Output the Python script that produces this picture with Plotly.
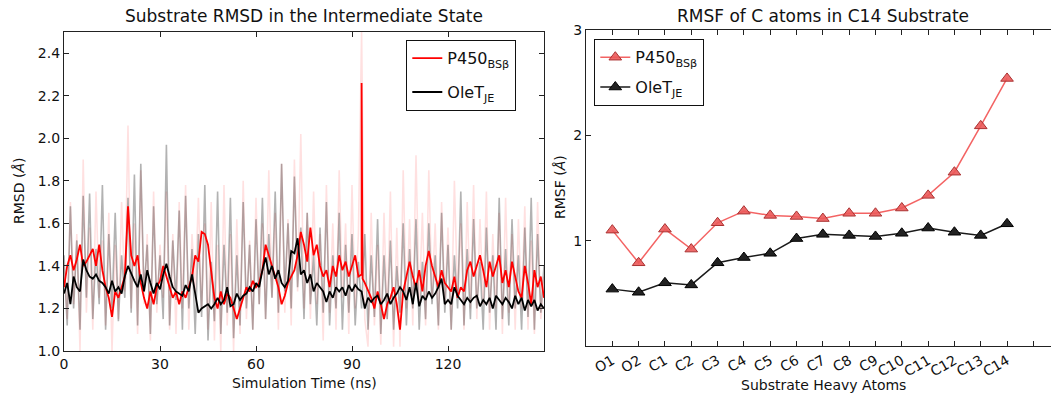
import plotly.graph_objects as go

# ---------------- data: left panel (RMSD time series, ns / Angstrom) ----------------
time_ns = list(range(151))

p450_smooth = [1.30, 1.40, 1.45, 1.38, 1.43, 1.50, 1.40, 1.42, 1.45, 1.48,
               1.40, 1.50, 1.38, 1.30, 1.25, 1.16, 1.28, 1.25, 1.30, 1.35,
               1.68, 1.45, 1.40, 1.45, 1.32, 1.25, 1.20, 1.28, 1.22, 1.30,
               1.33, 1.40, 1.35, 1.30, 1.25, 1.28, 1.22, 1.28, 1.25, 1.30,
               1.35, 1.45, 1.42, 1.56, 1.55, 1.50, 1.38, 1.25, 1.20, 1.28,
               1.22, 1.27, 1.25, 1.20, 1.15, 1.20, 1.25, 1.30, 1.28, 1.33,
               1.30, 1.32, 1.38, 1.50, 1.45, 1.40, 1.35, 1.30, 1.22, 1.26,
               1.32, 1.35, 1.38, 1.45, 1.56, 1.50, 1.42, 1.58, 1.45, 1.50,
               1.40, 1.35, 1.38, 1.30, 1.40, 1.35, 1.45, 1.38, 1.42, 1.35,
               1.40, 1.45, 1.35, 1.36, 1.32, 1.28, 1.25, 1.20, 1.28, 1.22,
               1.15, 1.22, 1.25, 1.30, 1.22, 1.10, 1.28, 1.35, 1.42, 1.35,
               1.30, 1.38, 1.28, 1.40, 1.47, 1.40, 1.35, 1.30, 1.38, 1.32,
               1.30, 1.28, 1.35, 1.25, 1.30, 1.28, 1.38, 1.42, 1.35, 1.40,
               1.45, 1.38, 1.30, 1.42, 1.35, 1.40, 1.45, 1.32, 1.38, 1.30,
               1.42, 1.35, 1.28, 1.25, 1.40, 1.32, 1.22, 1.38, 1.30, 1.35,
               1.25]
# sharp excursion of the P450 trace near 93 ns
p450_spike_time = [92.7, 93.0, 93.3]
p450_spike_val = [1.36, 2.26, 1.34]

olet_smooth = [1.27, 1.32, 1.22, 1.35, 1.30, 1.28, 1.43, 1.38, 1.35, 1.34,
               1.36, 1.33, 1.32, 1.30, 1.27, 1.33, 1.28, 1.30, 1.27, 1.35,
               1.40, 1.36, 1.33, 1.30, 1.36, 1.28, 1.38, 1.32, 1.27, 1.32,
               1.29, 1.36, 1.41, 1.35, 1.30, 1.28, 1.27, 1.26, 1.31, 1.28,
               1.36, 1.26, 1.18, 1.20, 1.21, 1.22, 1.20, 1.22, 1.25, 1.22,
               1.24, 1.30, 1.21, 1.22, 1.27, 1.24, 1.26, 1.27, 1.30, 1.28,
               1.32, 1.30, 1.38, 1.44, 1.36, 1.40, 1.34, 1.38, 1.32, 1.30,
               1.33, 1.47, 1.46, 1.53, 1.36, 1.38, 1.32, 1.36, 1.28, 1.32,
               1.30, 1.28, 1.23, 1.28, 1.25, 1.30, 1.28, 1.30, 1.26, 1.31,
               1.28, 1.31, 1.29, 1.28, 1.20, 1.25, 1.23, 1.25, 1.26, 1.22,
               1.24, 1.27, 1.22, 1.25, 1.27, 1.30, 1.28, 1.24, 1.30, 1.22,
               1.32, 1.21, 1.26, 1.24, 1.28, 1.25, 1.27, 1.30, 1.34, 1.22,
               1.24, 1.22, 1.30, 1.26, 1.24, 1.22, 1.25, 1.23, 1.25, 1.26,
               1.21, 1.24, 1.22, 1.25, 1.20, 1.26, 1.24, 1.22, 1.25, 1.23,
               1.20, 1.26, 1.22, 1.25, 1.19, 1.24, 1.21, 1.24, 1.19, 1.22,
               1.20]

p450_raw = [1.40, 1.15, 1.70, 1.22, 1.55, 1.00, 1.90, 1.18, 1.58, 1.10,
            1.75, 1.25, 1.52, 1.12, 1.65, 1.00, 1.50, 1.15, 1.70, 1.28,
            2.06, 1.20, 1.60, 1.08, 1.85, 1.22, 1.55, 1.05, 1.75, 1.18,
            1.50, 1.25, 1.75, 1.10, 1.55, 1.08, 1.70, 1.20, 1.78, 1.10,
            1.55, 1.28, 1.72, 1.20, 1.60, 1.10, 1.70, 1.05, 1.50, 1.00,
            1.78, 1.12, 1.55, 1.00, 1.62, 1.08, 1.80, 1.15, 1.52, 1.10,
            1.72, 1.22, 1.60, 1.15, 1.85, 1.25, 1.65, 1.10, 1.88, 1.18,
            1.62, 1.12, 1.90, 1.28, 2.02, 1.20, 1.65, 1.15, 1.75, 1.22,
            1.55, 1.05, 1.78, 1.18, 1.60, 1.10, 1.85, 1.25, 1.60, 1.08,
            1.78, 1.20, 1.55, 2.50, 1.15, 1.02, 1.65, 1.12, 1.50, 1.03,
            1.65, 1.15, 1.75, 1.02, 1.58, 1.02, 1.85, 1.20, 1.62, 1.12,
            1.92, 1.22, 1.65, 1.12, 1.85, 1.25, 1.60, 1.10, 1.70, 1.22,
            1.58, 1.10, 1.80, 1.25, 1.60, 1.10, 1.70, 1.20, 1.78, 1.15,
            1.62, 1.22, 1.75, 1.10, 1.55, 1.20, 1.65, 1.08, 1.72, 1.18,
            1.55, 1.10, 1.62, 1.20, 1.68, 1.10, 1.52, 1.08, 1.70, 1.15,
            1.35]

olet_raw = [1.45, 1.12, 1.68, 1.20, 1.52, 1.10, 1.73, 1.25, 1.74, 1.15,
            1.48, 1.22, 1.78, 1.10, 1.55, 1.20, 1.65, 1.14, 1.45, 1.25,
            1.72, 1.18, 1.83, 1.12, 1.88, 1.28, 1.50, 1.08, 1.68, 1.22,
            1.45, 1.15, 1.97, 1.12, 1.52, 1.24, 1.66, 1.10, 1.73, 1.20,
            1.48, 1.08, 1.55, 1.16, 1.78, 1.05, 1.42, 1.14, 1.75, 1.08,
            1.50, 1.18, 1.72, 1.06, 1.45, 1.12, 1.70, 1.20, 1.50, 1.10,
            1.62, 1.22, 1.72, 1.15, 1.55, 1.25, 1.75, 1.18, 1.88, 1.28,
            1.60, 1.20, 1.82, 1.30, 1.58, 1.15, 1.65, 1.22, 1.45, 1.12,
            1.58, 1.18, 1.70, 1.12, 1.45, 1.20, 1.65, 1.10, 1.50, 1.18,
            1.55, 1.12, 1.42, 1.20, 1.55, 1.10, 1.45, 1.16, 1.62, 1.08,
            1.45, 1.15, 1.52, 1.10, 1.40, 1.18, 1.60, 1.12, 1.48, 1.20,
            1.62, 1.10, 1.42, 1.15, 1.60, 1.22, 1.45, 1.12, 1.65, 1.18,
            1.50, 1.10, 1.45, 1.20, 1.75, 1.12, 1.48, 1.15, 1.62, 1.20,
            1.42, 1.10, 1.58, 1.18, 1.45, 1.10, 1.72, 1.15, 1.48, 1.12,
            1.62, 1.20, 1.45, 1.10, 1.58, 1.16, 1.72, 1.10, 1.55, 1.18,
            1.40]

rmsd_ticks = [1.0, 1.2, 1.4, 1.6, 1.8, 2.0, 2.2, 2.4]
time_ticks = [0, 30, 60, 90, 120]

# ---------------- data: right panel (RMSF per heavy atom) ----------------
atoms = ["O1", "O2", "C1", "C2", "C3", "C4", "C5", "C6", "C7", "C8",
         "C9", "C10", "C11", "C12", "C13", "C14"]
rmsf_p450 = [1.10, 0.79, 1.11, 0.92, 1.17, 1.28, 1.24, 1.23, 1.21, 1.26,
             1.26, 1.31, 1.43, 1.65, 2.09, 2.54]
rmsf_olet = [0.54, 0.51, 0.60, 0.58, 0.79, 0.84, 0.88, 1.02, 1.06, 1.05,
             1.04, 1.07, 1.12, 1.08, 1.05, 1.16]
rmsf_ticks = [1, 2, 3]

name_p450 = "P450<sub>BSβ</sub>"
name_olet = "OleT<sub>JE</sub>"

# ---------------- figure ----------------
W, H = 1051, 395
FONT = "DejaVu Sans"
fig = go.Figure()

# merge the spike samples into the smoothed P450 trace (sorted by time)
red_pts = sorted(list(zip(time_ns, p450_smooth)) + list(zip(p450_spike_time, p450_spike_val)))
red_t = [p[0] for p in red_pts]
red_v = [p[1] for p in red_pts]

fig.add_trace(go.Scatter(x=time_ns, y=p450_raw, mode="lines",
                         line=dict(color="rgba(255,0,0,0.12)", width=1.6),
                         showlegend=False, hoverinfo="skip", xaxis="x", yaxis="y"))
fig.add_trace(go.Scatter(x=time_ns, y=olet_raw, mode="lines",
                         line=dict(color="rgba(0,0,0,0.3)", width=1.6),
                         showlegend=False, hoverinfo="skip", xaxis="x", yaxis="y"))
fig.add_trace(go.Scatter(x=red_t, y=red_v, mode="lines", name=name_p450,
                         line=dict(color="#ff0000", width=1.8), legendgroup="a",
                         xaxis="x", yaxis="y", legend="legend"))
fig.add_trace(go.Scatter(x=time_ns, y=olet_smooth, mode="lines", name=name_olet,
                         line=dict(color="#000000", width=1.8), legendgroup="b",
                         xaxis="x", yaxis="y", legend="legend"))

atom_idx = list(range(len(atoms)))
fig.add_trace(go.Scatter(x=atom_idx, y=rmsf_p450, mode="lines+markers", name=name_p450,
                         line=dict(color="rgba(240,60,60,0.8)", width=1.5),
                         marker=dict(symbol="triangle-up", size=11,
                                     color="rgba(235,90,90,0.9)",
                                     line=dict(color="rgb(170,50,50)", width=1)),
                         legendgroup="c", xaxis="x2", yaxis="y2", legend="legend2"))
fig.add_trace(go.Scatter(x=atom_idx, y=rmsf_olet, mode="lines+markers", name=name_olet,
                         line=dict(color="#1a1a1a", width=1.5),
                         marker=dict(symbol="triangle-up", size=11, color="#222222",
                                     line=dict(color="#000000", width=1)),
                         legendgroup="d", xaxis="x2", yaxis="y2", legend="legend2"))

axis_common = dict(showline=True, linecolor="#222222", linewidth=1.3, ticks="inside",
                   ticklen=5, tickwidth=1, tickcolor="#222222", showgrid=False,
                   zeroline=False, automargin=False,
                   tickfont=dict(family=FONT, size=14, color="#111111"))

fig.update_layout(
    width=W, height=H, margin=dict(l=0, r=0, t=0, b=0),
    paper_bgcolor="white", plot_bgcolor="white",
    font=dict(family=FONT, color="#111111"),
    xaxis=dict(domain=[64 / W, 544 / W], range=[0, 150], tickmode="array",
               tickvals=time_ticks, ticktext=[str(v) for v in time_ticks],
               mirror="allticks", anchor="y", **axis_common),
    yaxis=dict(domain=[(H - 351) / H, (H - 32) / H], range=[1.0, 2.5], tickmode="array",
               tickvals=rmsd_ticks, ticktext=[f"{v:.1f}" for v in rmsd_ticks],
               mirror="allticks", anchor="x", **axis_common),
    xaxis2=dict(domain=[586 / W, 1.0], range=[-1, 16.67], tickmode="array",
                tickvals=list(range(len(atoms) + 1)), ticktext=atoms + [""],
                tickangle=-30, mirror="allticks", anchor="y2", **axis_common),
    yaxis2=dict(domain=[(H - 346) / H, (H - 30) / H], range=[0, 3], tickmode="array",
                tickvals=rmsf_ticks, ticktext=[str(v) for v in rmsf_ticks],
                mirror=False, anchor="x2", **axis_common),
    legend=dict(x=406 / W, y=(H - 40) / H, xanchor="left", yanchor="top",
                bordercolor="#111111", borderwidth=1.3, bgcolor="white",
                font=dict(family=FONT, size=16), traceorder="grouped", tracegroupgap=10),
    legend2=dict(x=594 / W, y=(H - 39) / H, xanchor="left", yanchor="top",
                 bordercolor="#111111", borderwidth=1.3, bgcolor="white",
                 font=dict(family=FONT, size=16), traceorder="grouped", tracegroupgap=6),
)

ann_font = dict(family=FONT, size=14, color="#111111")
title_font = dict(family=FONT, size=17, color="#111111")
fig.update_layout(annotations=[
    dict(text="Substrate RMSD in the Intermediate State", x=304 / W, y=(H - 16) / H,
         xref="paper", yref="paper", showarrow=False, font=title_font,
         xanchor="center", yanchor="middle"),
    dict(text="RMSF of C atoms in C14 Substrate", x=823 / W, y=(H - 16) / H,
         xref="paper", yref="paper", showarrow=False, font=title_font,
         xanchor="center", yanchor="middle"),
    dict(text="Simulation Time (ns)", x=304 / W, y=(H - 383) / H,
         xref="paper", yref="paper", showarrow=False, font=ann_font,
         xanchor="center", yanchor="middle"),
    dict(text="Substrate Heavy Atoms", x=823 / W, y=(H - 385) / H,
         xref="paper", yref="paper", showarrow=False, font=ann_font,
         xanchor="center", yanchor="middle"),
    dict(text="RMSD (<i>Å</i>)", x=19 / W, y=(H - 191) / H, textangle=-90,
         xref="paper", yref="paper", showarrow=False, font=ann_font,
         xanchor="center", yanchor="middle"),
    dict(text="RMSF (<i>Å</i>)", x=560 / W, y=(H - 187) / H, textangle=-90,
         xref="paper", yref="paper", showarrow=False, font=ann_font,
         xanchor="center", yanchor="middle"),
])

fig.write_html("out.html", config={"displayModeBar": False},
               post_script="document.body.style.margin='0';document.body.style.overflow='hidden';")
